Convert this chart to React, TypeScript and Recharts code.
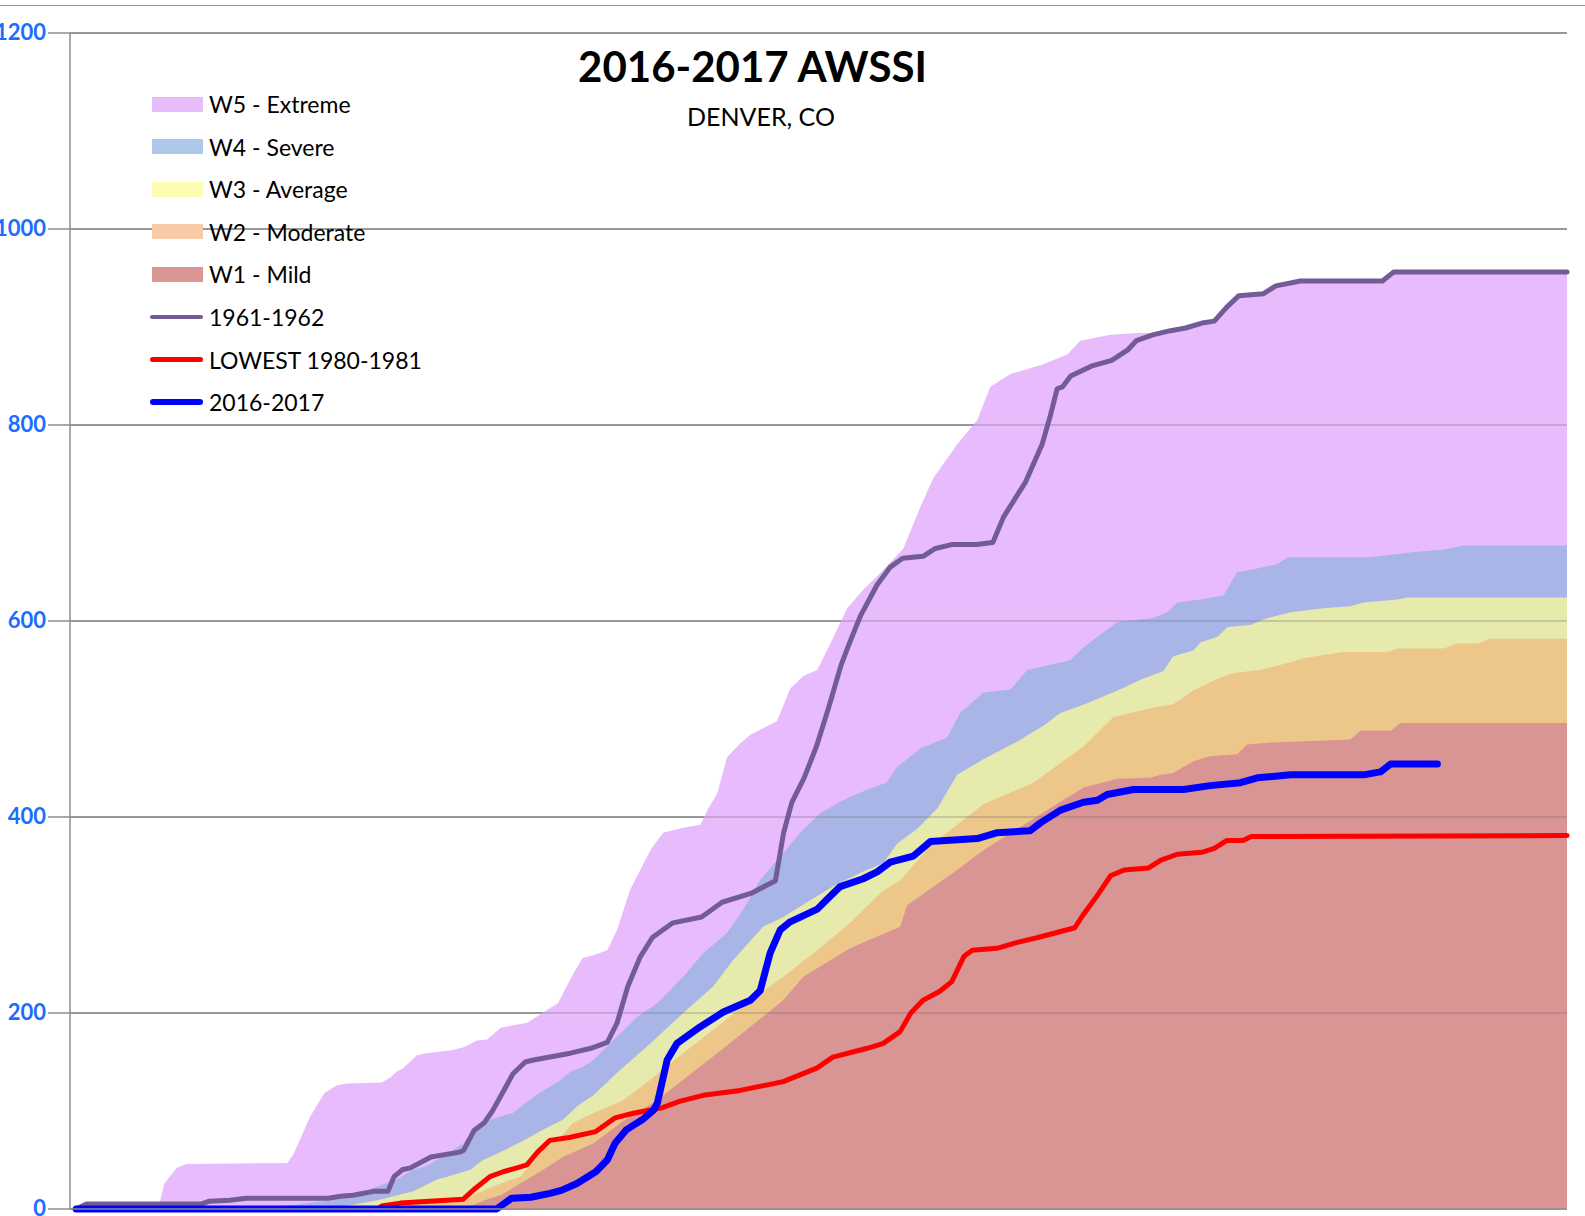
import React from 'react'
import { ComposedChart, Area, Line, XAxis, YAxis, CartesianGrid, ReferenceLine } from 'recharts'

// [day of season, cumulative AWSSI]
type Pt = [number, number]

const w5Extreme: Pt[] = [
  [1.5, 0], [21.5, 0], [22, 9], [23, 26], [26, 42], [28.5, 46], [53, 47], [54.4, 55], [56, 70], [58.5, 94],
  [62, 118], [65, 126], [67.5, 128], [76, 129], [78, 134], [79.6, 140], [81.3, 144], [84.6, 157], [87, 159],
  [93, 162], [96, 165], [99.2, 172], [101.7, 173], [105, 185], [111.5, 190], [116.3, 203], [119, 210],
  [120.2, 220], [122.7, 240], [125, 256], [127.6, 259], [131, 264], [133.4, 285], [136.6, 326], [141.5, 366],
  [144.6, 384], [149.5, 389], [153.7, 392], [155.4, 407], [157.8, 424], [160.2, 461], [163.4, 475],
  [165.9, 484], [172.4, 498], [175.6, 531], [178.8, 544], [182.2, 550], [185.4, 577], [189.5, 613],
  [193.4, 632], [197.6, 649], [203.2, 674], [207.3, 716], [210.5, 746], [216.3, 780], [221.2, 805],
  [224.4, 839], [229.3, 852], [237.3, 862], [243.2, 872], [246.3, 886], [253.7, 892], [260, 894], [264, 894],
  [268, 896], [272, 899], [276, 904], [279, 906], [282, 920], [285, 932], [291, 934], [294, 942], [300, 947],
  [320, 947], [322.7, 956], [365, 956],
]

const w4Severe: Pt[] = [
  [49, 0], [52, 3], [64, 9], [70, 15], [73, 20], [79.6, 30], [83.7, 40], [87, 44], [93.4, 60], [95.9, 67],
  [99.2, 84], [102.4, 91], [108, 98], [113.9, 117], [118.8, 129], [122, 140], [125, 145], [127.6, 152],
  [131.7, 169], [138.3, 196], [143.2, 210], [149.5, 237], [154.4, 261], [160.2, 282], [164.1, 305],
  [168.3, 336], [173.9, 363], [178, 384], [183, 404], [188.5, 417], [194.4, 428], [199, 435], [201.7, 451],
  [207.3, 470], [213.9, 481], [217, 506], [222.7, 527], [229.3, 530], [233.4, 550], [243.9, 560],
  [247.1, 573], [250.5, 584], [255.4, 599], [264.1, 603], [267.6, 609], [270, 619], [275.6, 622],
  [281.2, 626], [284.6, 650], [287.8, 652], [294.4, 658], [296.8, 665], [317, 665], [326.8, 670],
  [334.9, 673], [339.8, 677], [365, 677],
]

const w3Average: Pt[] = [
  [64, 0], [66, 2], [75, 9], [83.7, 18], [89.5, 30], [92, 33], [97.6, 40], [100.7, 50], [104.9, 58],
  [109.8, 68], [115.4, 81], [120.2, 91], [123.7, 105], [127.6, 116], [133.4, 139], [141.5, 169],
  [149.5, 200], [156.8, 227], [161.7, 254], [169, 288], [173.9, 298], [180.5, 315], [186, 329],
  [192.7, 343], [198.3, 353], [201.7, 373], [206.6, 388], [211.5, 409], [216.3, 443], [222.7, 459],
  [231, 477], [237.3, 493], [241.5, 506], [248, 516], [256, 530], [261, 540], [266.6, 549], [269, 564],
  [273.9, 570], [275.6, 578], [279.8, 584], [282.2, 594], [287.8, 596], [292, 603], [297.6, 609],
  [305.6, 613], [312.2, 615], [315.4, 619], [323.7, 622], [326.1, 624], [365, 624],
]

const w2Moderate: Pt[] = [
  [75, 0], [77, 2], [88.5, 9], [97.6, 13], [104.9, 26], [109.8, 33], [115.4, 60], [118.8, 70], [122.7, 88],
  [127.6, 98], [134.9, 111], [141.5, 132], [149.5, 159], [157.8, 186], [165.9, 213], [173.9, 237],
  [182.2, 264], [190.2, 292], [198.3, 325], [202.4, 335], [209.8, 371], [222.7, 413], [234.9, 435],
  [247.1, 472], [254.4, 502], [263.4, 511], [269, 515], [273.9, 529], [279.8, 541], [283.7, 547],
  [290.2, 550], [297.6, 558], [300.7, 562], [309.8, 568], [321.2, 568], [323.7, 572], [334.9, 572],
  [338.3, 577], [343.2, 577], [346.3, 582], [365, 582],
]

const w1Mild: Pt[] = [
  [96, 0], [97, 2], [102.4, 11], [105, 14], [109.8, 26], [115.4, 40], [120.2, 53], [127.6, 67], [135, 90],
  [143.2, 111], [149.5, 132], [157.8, 159], [165.9, 186], [173.9, 213], [178.8, 237], [190.2, 266],
  [202.4, 288], [204.1, 310], [216.3, 346], [222.7, 366], [231, 388], [247.1, 430], [255.4, 439],
  [263.4, 440], [265.9, 443], [269, 445], [273.9, 457], [278, 462], [284.6, 464], [287, 474], [293.4, 476],
  [312.2, 479], [314.6, 488], [322, 488], [324.4, 496], [365, 496],
]

const season1961: Pt[] = [
  [1.5, 0], [4, 5], [32, 5], [34, 8], [39, 9], [43, 11], [63, 11], [66, 13], [69, 14], [74, 18], [77.5, 18],
  [79, 33], [81, 40], [83, 42], [88, 53], [95, 58], [96, 60], [98.5, 80], [101, 88], [103, 100], [105, 115],
  [108, 138], [111, 150], [113, 152], [122, 159], [127, 164], [131, 170], [133.4, 190], [136, 227],
  [139, 257], [142, 277], [147, 292], [154, 298], [159, 313], [166, 322], [172, 335], [174, 384],
  [176, 415], [179, 440], [182, 472], [185, 512], [188, 555], [190, 577], [192.7, 605], [196.8, 637],
  [200, 655], [203, 664], [208, 666], [211, 674], [215, 678], [221, 678], [225, 680], [227.6, 706],
  [233, 742], [237, 780], [239, 809], [240.7, 837], [242, 839], [244, 850], [249, 860], [254, 866],
  [258, 877], [260, 886], [264, 892], [268, 896], [272, 899], [276, 904], [279, 906], [282, 920],
  [285, 932], [291, 934], [294, 942], [300, 947], [320, 947], [322.7, 956], [365, 956],
]

const lowest1980: Pt[] = [
  [1.5, 0], [75, 0], [76, 3], [80.5, 6], [95.9, 10], [98.8, 21], [102.4, 33], [105.6, 38], [109, 42],
  [111.4, 45], [114, 58], [117, 70], [121.7, 73], [128.2, 79], [132.9, 93], [137.6, 98], [144.1, 103],
  [148.8, 110], [154.4, 116], [163.4, 121], [173.9, 130], [182.2, 144], [186, 155], [194.4, 164],
  [198.3, 169], [202.4, 181], [205, 200], [208, 213], [212, 222], [215, 232], [218, 258], [220, 264],
  [226, 266], [231, 272], [236, 277], [245, 287], [247, 300], [250.5, 320], [253.7, 340], [257, 346],
  [263, 348], [266, 356], [270, 362], [276, 364], [279, 368], [282, 376], [286, 376], [288, 380], [365, 381],
]

const season2016: Pt[] = [
  [1.5, 0], [104, 0], [107.7, 11], [112.4, 12], [117, 16], [119.8, 19], [123.6, 26], [128.2, 38], [131, 50],
  [132.9, 67], [135.7, 81], [139.5, 91], [142.3, 101], [143.2, 108], [145.6, 152], [148, 169], [153.7, 186],
  [159.3, 201], [165.9, 213], [168.3, 223], [170.7, 261], [173.2, 285], [175.6, 293], [182.2, 306],
  [184.6, 316], [187.8, 329], [193.4, 337], [196.8, 344], [200, 354], [205.6, 360], [209.8, 375],
  [221.2, 378], [226.1, 384], [234.1, 386], [236.6, 394], [241.5, 407], [247.1, 415], [250.5, 417],
  [252.9, 423], [259.3, 428], [271.5, 428], [278, 432], [285.4, 435], [289.5, 440], [297.6, 443],
  [315.4, 443], [319.5, 446], [322, 454], [333.4, 454],
]

const yTicks = [0, 200, 400, 600, 800, 1000, 1200]
const dayTicks = Array.from({ length: 366 }, (_, i) => i)

const bands = [
  { key: 'w5', name: 'W5 - Extreme', pts: w5Extreme, fill: '#E7BBFC', swatch: '#E6BCFB' },
  { key: 'w4', name: 'W4 - Severe', pts: w4Severe, fill: '#A9B5E7', swatch: '#AEC8EB' },
  { key: 'w3', name: 'W3 - Average', pts: w3Average, fill: '#E6EAAD', swatch: '#FCFDB2' },
  { key: 'w2', name: 'W2 - Moderate', pts: w2Moderate, fill: '#EDC689', swatch: '#F8CBA8' },
  { key: 'w1', name: 'W1 - Mild', pts: w1Mild, fill: '#D99594', swatch: '#D99694' },
]
const lines = [
  { key: 's1961', name: '1961-1962', pts: season1961, color: '#735B95', width: 5 },
  { key: 'low', name: 'LOWEST 1980-1981', pts: lowest1980, color: '#FF0000', width: 5 },
  { key: 's2016', name: '2016-2017', pts: season2016, color: '#0000FF', width: 7 },
]

// one table keyed by day; series without a point on that day stay null
const allSeries = [...bands, ...lines]
const days = Array.from(new Set(allSeries.flatMap((s) => s.pts.map((p) => p[0])))).sort((a, b) => a - b)
const chartData = days.map((d) => {
  const row: Record<string, number | null> = { day: d }
  allSeries.forEach((s) => {
    const hit = s.pts.find((p) => p[0] === d)
    row[s.key] = hit ? hit[1] : null
  })
  return row
})

const font = 'Lato, "Open Sans", sans-serif'

function YTick(props: any) {
  const { x, y, payload } = props
  return (
    <text x={x} y={y} dy={7} textAnchor='end' fill='#1a6dff' fontSize={22} fontWeight={700} fontFamily={font}>
      {payload.value}
    </text>
  )
}

function Legend() {
  const rowTop = 104
  const step = 42.6
  return (
    <div style={{ position: 'absolute', left: 0, top: 0, fontFamily: font, fontSize: 23, color: '#000' }}>
      {bands.map((b, i) => (
        <div key={b.key} style={{ position: 'absolute', top: rowTop + i * step - 15, left: 152, height: 30, display: 'flex', alignItems: 'center', whiteSpace: 'nowrap' }}>
          <div style={{ width: 51, height: 15, background: b.swatch }} />
          <span style={{ marginLeft: 6 }}>{b.name}</span>
        </div>
      ))}
      {lines.map((l, i) => (
        <div key={l.key} style={{ position: 'absolute', top: rowTop + (i + 5) * step - 15, left: 150, height: 30, display: 'flex', alignItems: 'center', whiteSpace: 'nowrap' }}>
          <div style={{ width: 53, height: l.width - 0.5, background: l.color, borderRadius: 4 }} />
          <span style={{ marginLeft: 6 }}>{l.name}</span>
        </div>
      ))}
    </div>
  )
}

export default function App() {
  return (
    <div style={{ position: 'absolute', left: 0, top: 0, width: 1585, height: 1216, background: '#fff', overflow: 'hidden' }}>
      <div style={{ position: 'absolute', left: 0, top: 5, width: 1585, height: 0, borderTop: '1.5px solid #9a9a9a' }} />
      <ComposedChart width={1585} height={1216} data={chartData} margin={{ top: 33, right: 18, bottom: 0, left: 0 }}>
        <CartesianGrid vertical={false} stroke='#8c8c8c' strokeWidth={1.5} />
        <XAxis
          dataKey='day'
          type='number'
          domain={[0, 365]}
          ticks={dayTicks}
          interval={0}
          height={7}
          tick={false}
          tickSize={5}
          axisLine={{ stroke: '#8c8c8c', strokeWidth: 1.5 }}
          tickLine={{ stroke: '#8c8c8c', strokeWidth: 1.2 }}
        />
        <YAxis
          type='number'
          domain={[0, 1200]}
          ticks={yTicks}
          interval={0}
          width={70}
          tickSize={22}
          tickMargin={2}
          axisLine={{ stroke: '#8c8c8c', strokeWidth: 1.5 }}
          tickLine={{ stroke: '#8c8c8c', strokeWidth: 1.5 }}
          tick={<YTick />}
        />
        {bands.map((b) => (
          <Area
            key={b.key}
            type='linear'
            dataKey={b.key}
            name={b.name}
            stroke='none'
            fill={b.fill}
            fillOpacity={1}
            connectNulls
            dot={false}
            activeDot={false}
            isAnimationActive={false}
          />
        ))}
        {yTicks.slice(1).map((y) => (
          <ReferenceLine key={y} y={y} stroke='#6a6a6a' strokeOpacity={0.35} strokeWidth={1.5} />
        ))}
        {lines.map((l) => (
          <Line
            key={l.key}
            type='linear'
            dataKey={l.key}
            name={l.name}
            stroke={l.color}
            strokeWidth={l.width}
            strokeLinecap='round'
            strokeLinejoin='round'
            connectNulls
            dot={false}
            activeDot={false}
            isAnimationActive={false}
          />
        ))}
      </ComposedChart>
      <div style={{ position: 'absolute', left: 0, width: 1505, top: 40, textAlign: 'center', fontFamily: font, fontWeight: 700, fontSize: 42, lineHeight: '52px' }}>
        2016-2017 AWSSI
      </div>
      <div style={{ position: 'absolute', left: 0, width: 1522, top: 101, textAlign: 'center', fontFamily: font, fontSize: 25, lineHeight: '30px' }}>
        DENVER, CO
      </div>
      <Legend />
    </div>
  )
}
